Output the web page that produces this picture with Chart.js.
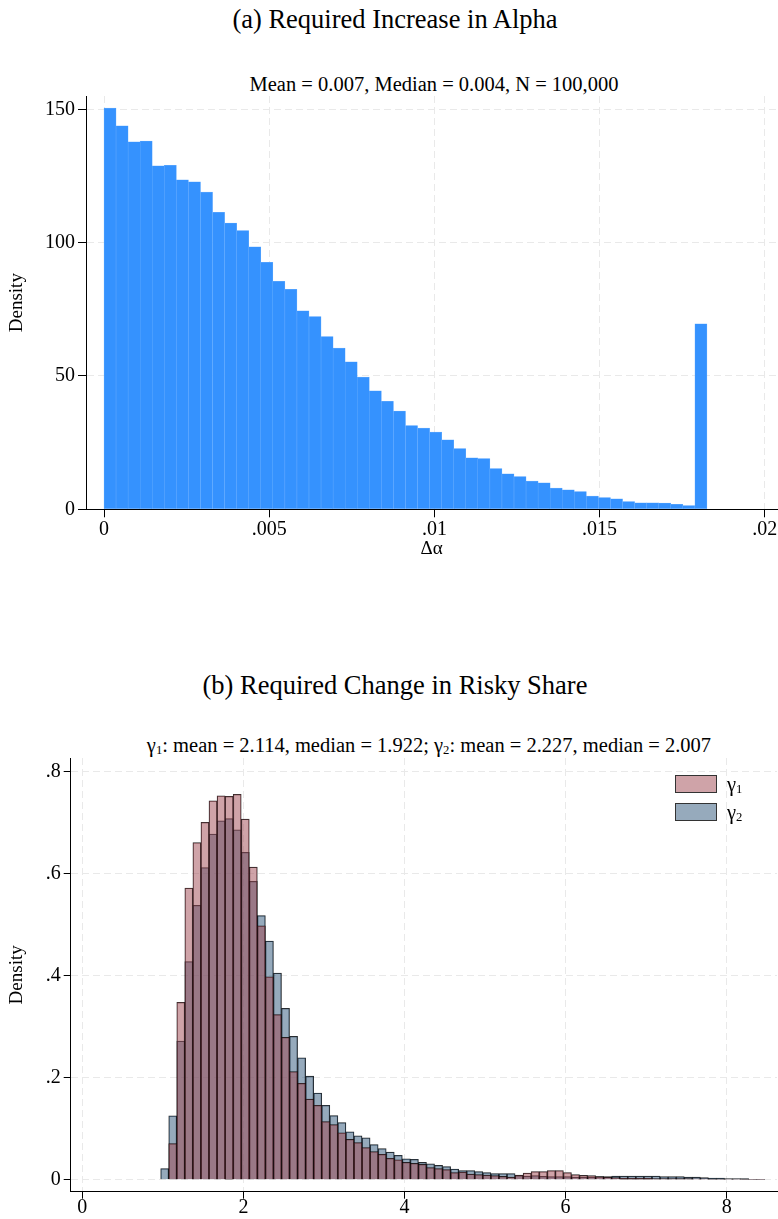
<!DOCTYPE html>
<html lang="en">
<head>
<meta charset="UTF-8">
<title>Required Increase in Alpha / Required Change in Risky Share</title>
<script src="https://cdn.jsdelivr.net/npm/chart.js@4.4.1/dist/chart.umd.min.js"></script>
<style>
  body { margin: 0; background: #fff; width: 778px; height: 1219px; position: relative; overflow: hidden;
         font-family: "Liberation Serif", "Times New Roman", serif; color: #000; }
  canvas { position: absolute; left: 0; }
  #histA { top: 0; }
  #histB { top: 560px; }
  .ttl { position: absolute; white-space: nowrap; transform: translate(-50%, -50%); line-height: 1; }
  .big { font-size: 26.5px; }
  .sml { font-size: 20.5px; }
  .sub { font-size: 0.62em; position: relative; top: 0.15em; }
  .legend { position: absolute; left: 675px; font-size: 20.5px; line-height: 19px; }
  .legend .row { height: 19px; margin-bottom: 9px; white-space: nowrap; }
  .legend .sw { display: inline-block; width: 42px; height: 18px; border: 1px solid #333; vertical-align: top; margin-right: 10px; box-sizing: border-box; }
</style>
</head>
<body>
<div class="ttl big" style="left:395px; top:19px;">(a) Required Increase in Alpha</div>
<div class="ttl sml" style="left:434px; top:84px;">Mean = 0.007, Median = 0.004, N = 100,000</div>
<canvas id="histA" width="778" height="560"></canvas>

<div class="ttl big" style="left:395px; top:685px;">(b) Required Change in Risky Share</div>
<div class="ttl sml" style="left:429px; top:745px;">γ<span class="sub">1</span>: mean = 2.114, median = 1.922; γ<span class="sub">2</span>: mean = 2.227, median = 2.007</div>
<canvas id="histB" width="778" height="659"></canvas>
<div class="legend" id="legendB" style="top:775px;"></div>

<script>
// ---- panel (a): required increase in alpha ----
const binStartA = 0;
const binWidthA = 0.000365;
const densityA = [150.5, 143.8, 137.8, 138.1, 128.8, 129.0, 123.6, 122.8, 119.0, 111.4,
                  107.3, 104.5, 98.4, 92.6, 85.5, 82.5, 74.4, 72.3, 64.8, 60.5,
                  55.3, 49.6, 44.4, 40.5, 36.8, 31.4, 30.5, 29.0, 26.1, 22.8,
                  19.3, 19.0, 15.3, 13.3, 12.3, 10.6, 9.9, 8.0, 7.3, 6.6,
                  5.0, 4.4, 3.9, 2.9, 2.4, 2.4, 2.3, 1.9, 1.4, 69.6];
const xTicksA = [0, 0.005, 0.01, 0.015, 0.02];
const xLabelsA = ['0', '.005', '.01', '.015', '.02'];
const yTicksA = [0, 50, 100, 150];
const yLabelsA = ['0', '50', '100', '150'];

// ---- panel (b): required change in risky share ----
const binStartB = 0.973;
const binWidthB = 0.1;
const gamma1 = [0, 0.071, 0.348, 0.572, 0.661, 0.701, 0.743, 0.753, 0.752, 0.756,
                0.707, 0.613, 0.498, 0.398, 0.324, 0.279, 0.212, 0.189, 0.158, 0.146,
                0.114, 0.108, 0.092, 0.079, 0.073, 0.063, 0.055, 0.050, 0.042, 0.039,
                0.034, 0.032, 0.030, 0.024, 0.022, 0.020, 0.014, 0.015, 0.011, 0.010,
                0.009, 0.008, 0.0065, 0.005, 0.009, 0.013, 0.016, 0.016, 0.018, 0.018,
                0.014, 0.010, 0.0085, 0.008, 0.006, 0.005, 0.004, 0.003, 0.003, 0.003,
                0.003, 0.002, 0.002, 0.002, 0.002, 0.002, 0.0015, 0.0015, 0.001, 0.001,
                0.001, 0.001, 0.0008, 0.0005, 0.0005];
const gamma2 = [0.022, 0.1255, 0.272, 0.428, 0.538, 0.612, 0.678, 0.704, 0.708, 0.686,
                0.642, 0.585, 0.518, 0.468, 0.405, 0.336, 0.281, 0.239, 0.203, 0.170,
                0.146, 0.126, 0.112, 0.094, 0.086, 0.082, 0.069, 0.061, 0.054, 0.048,
                0.041, 0.040, 0.034, 0.031, 0.028, 0.026, 0.021, 0.018, 0.018, 0.016,
                0.014, 0.012, 0.012, 0.012, 0.008, 0.007, 0.008, 0.0065, 0.006, 0.006,
                0.006, 0.005, 0.005, 0.005, 0.006, 0.006, 0.007, 0.007, 0.007, 0.007,
                0.007, 0.007, 0.006, 0.006, 0.006, 0.005, 0.005, 0.004, 0.003, 0.003,
                0.002, 0.002, 0.002, 0.001, 0.001];
const xTicksB = [0, 2, 4, 6, 8];
const xLabelsB = ['0', '2', '4', '6', '8'];
const yTicksB = [0, 0.2, 0.4, 0.6, 0.8];
const yLabelsB = ['0', '.2', '.4', '.6', '.8'];
const seriesNames = ['γ1', 'γ2'];
const seriesFill = ['rgba(159, 71, 81, 0.5)', 'rgba(45, 85, 121, 0.5)'];

const serif = "'Liberation Serif', 'Times New Roman', serif";
const tickFont = { family: serif, size: 20, lineHeight: 1 };
const labelFont = { family: serif, size: 19, lineHeight: 1.2 };
const gridColor = '#e9e9e9';

function binPoints(start, width, vals) {
  return vals.map((v, i) => ({ x: start + width * (i + 0.5), y: v }));
}

function axis(o) {
  return {
    type: 'linear',
    offset: false,
    min: o.min,
    max: o.max,
    afterBuildTicks: s => { s.ticks = o.ticks.map(v => ({ value: v })); },
    afterFit: s => {
      if (o.width != null) s.width = o.width;
      if (o.height != null) s.height = o.height;
      s.paddingLeft = s.paddingRight = s.paddingTop = s.paddingBottom = 0;
    },
    ticks: {
      callback: v => o.labels[o.ticks.indexOf(v)],
      font: tickFont, color: '#000', padding: o.pad, maxRotation: 0, autoSkip: false
    },
    grid: { offset: false, color: gridColor, lineWidth: 1, tickColor: '#000', tickLength: o.tl, tickWidth: 1 },
    border: { display: true, color: '#000', width: 1, dash: [7, 4] },
    title: o.title
      ? { display: true, text: o.title, font: labelFont, color: '#000', padding: o.titlePad }
      : { display: false }
  };
}

const common = {
  responsive: false,
  animation: false,
  events: [],
  plugins: { legend: { display: false }, tooltip: { enabled: false } }
};

new Chart(document.getElementById('histA'), {
  type: 'bar',
  data: {
    datasets: [{
      data: binPoints(binStartA, binWidthA, densityA),
      backgroundColor: '#3592fe',
      borderColor: '#6aafff',
      borderWidth: 0.5,
      borderSkipped: 'start',
      barPercentage: 1,
      categoryPercentage: 1,
      grouped: false
    }]
  },
  options: Object.assign({}, common, {
    layout: { padding: { top: 96, left: 0, right: 1, bottom: 0 }, autoPadding: false },
    scales: {
      x: axis({ min: -0.000545, max: 0.02037, ticks: xTicksA, labels: xLabelsA, height: 50.7,
                tl: 8, pad: 2, title: 'Δα', titlePad: { top: 0, bottom: 0 } }),
      y: axis({ min: 0, max: 155, ticks: yTicksA, labels: yLabelsA, width: 86,
                tl: 8, pad: 3, title: 'Density', titlePad: { top: 6, bottom: 0 } })
    }
  })
});

new Chart(document.getElementById('histB'), {
  type: 'bar',
  data: {
    datasets: [gamma1, gamma2].map((vals, k) => ({
      label: seriesNames[k],
      data: binPoints(binStartB, binWidthB, vals),
      backgroundColor: seriesFill[k],
      borderColor: 'rgba(0, 0, 0, 0.85)',
      borderWidth: 0.6,
      borderSkipped: 'start',
      barPercentage: 1,
      categoryPercentage: 1,
      grouped: false
    }))
  },
  options: Object.assign({}, common, {
    layout: { padding: { top: 198, left: 0, right: 1, bottom: 0 }, autoPadding: false },
    scales: {
      x: axis({ min: -0.144, max: 8.625, ticks: xTicksB, labels: xLabelsB, height: 27.3,
                tl: 7, pad: -1 }),
      y: axis({ min: -0.0235, max: 0.827, ticks: yTicksB, labels: yLabelsB, width: 70.7,
                tl: 7, pad: 3, title: 'Density', titlePad: { top: 6, bottom: 0 } })
    }
  })
});

// legend for panel (b)
const legend = document.getElementById('legendB');
seriesNames.forEach((name, k) => {
  const row = document.createElement('div');
  row.className = 'row';
  row.innerHTML = '<span class="sw" style="background:' + seriesFill[k] + '"></span>' +
    name.charAt(0) + '<span class="sub">' + name.slice(1) + '</span>';
  legend.appendChild(row);
});
</script>
</body>
</html>
